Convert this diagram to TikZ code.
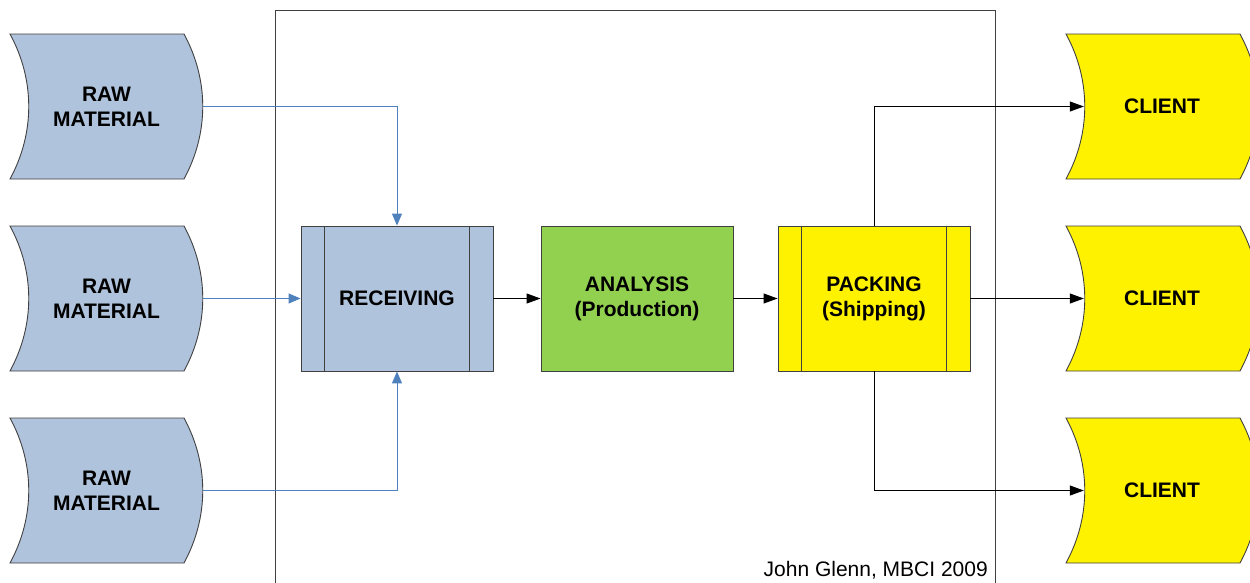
\documentclass[tikz,border=0pt]{standalone}
\usepackage{fontspec}
\setmainfont{Liberation Sans}
\usetikzlibrary{arrows.meta}
\definecolor{rawfill}{HTML}{B0C3DC}
\definecolor{linkblue}{HTML}{4F81BD}
\definecolor{anagreen}{HTML}{92D050}
\definecolor{edge}{HTML}{404040}
\tikzset{
  lbl/.style={font=\fontsize{21}{25}\selectfont\bfseries, align=center, inner sep=0pt},
  procbox/.style={lbl, draw=edge, line width=0.9pt, minimum width=192pt, minimum height=145pt},
  holder/.style={lbl, minimum height=145pt},
  shapeline/.style={draw=edge, line width=0.9pt},
  bl/.style={draw=linkblue, line width=1pt, -{Triangle[length=12pt,width=10pt]}, color=linkblue},
  blk/.style={draw=black, line width=1pt, -{Triangle[length=14pt,width=10pt]}},
}
\begin{document}
\begin{tikzpicture}[x=1pt,y=-1pt]
\useasboundingbox (0,0) rectangle (1250,582);
\clip (0,0) rectangle (1250,582);
% frame
\draw[edge, line width=1pt] (275,600) -- (275,10) -- (995,10) -- (995,600);
% raw material shapes
\foreach \y in {34,226,418}{
  \path[shapeline, fill=rawfill] (10,\y) -- (184,\y) .. controls (209,\y+46) and (209,\y+99) .. (184,\y+145)
    -- (10,\y+145) .. controls (35,\y+99) and (35,\y+46) .. (10,\y) -- cycle;
  \path[shapeline, fill=yellow] (1066,\y) -- (1240,\y) .. controls (1265,\y+46) and (1265,\y+99) .. (1240,\y+145)
    -- (1066,\y+145) .. controls (1091,\y+99) and (1091,\y+46) .. (1066,\y) -- cycle;
}
\node[holder, minimum width=193pt] (r1) at (106.5,106.5) {RAW\\MATERIAL};
\node[holder, minimum width=193pt] (r2) at (106.5,298.5) {RAW\\MATERIAL};
\node[holder, minimum width=193pt] (r3) at (106.5,490.5) {RAW\\MATERIAL};
\node[holder, minimum width=156pt] (c1) at (1162,106.5) {CLIENT};
\node[holder, minimum width=156pt] (c2) at (1162,298.5) {CLIENT};
\node[holder, minimum width=156pt] (c3) at (1162,490.5) {CLIENT};
% process boxes
\node[procbox, fill=rawfill] (rec) at (397,298.5) {RECEIVING};
\node[procbox, fill=anagreen] (ana) at (637,298.5) {ANALYSIS\\(Production)};
\node[procbox, fill=yellow] (pack) at (874,298.5) {PACKING\\(Shipping)};
\foreach \n in {rec,pack}{
  \draw[edge, line width=0.9pt] ([xshift=24pt]\n.north west) -- ([xshift=24pt]\n.south west);
  \draw[edge, line width=0.9pt] ([xshift=-24pt]\n.north east) -- ([xshift=-24pt]\n.south east);
}
% connectors
\draw[bl] (r1.east) -| (rec.north);
\draw[bl] (r2.east) -- (rec.west);
\draw[bl] (r3.east) -| (rec.south);
\draw[blk] (rec.east) -- (ana.west);
\draw[blk] (ana.east) -- (pack.west);
\draw[blk] (pack.north) |- (c1.west);
\draw[blk] (pack.east) -- (c2.west);
\draw[blk] (pack.south) |- (c3.west);
% credit
\node[font=\fontsize{21}{25}\selectfont, anchor=base east, inner sep=0pt] (credit) at (988,576) {John Glenn, MBCI 2009};
\end{tikzpicture}
\end{document}
